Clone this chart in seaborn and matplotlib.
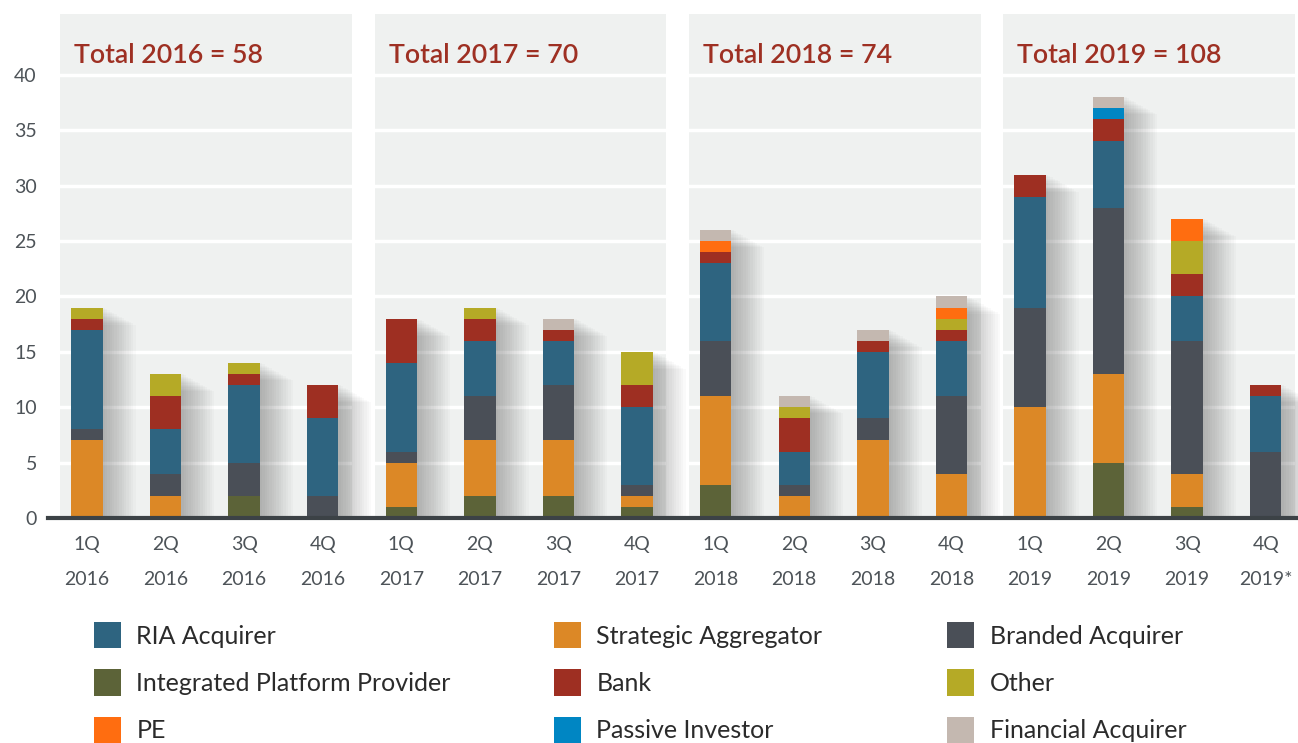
import numpy as np
import pandas as pd
import matplotlib
matplotlib.use("Agg")
import matplotlib.pyplot as plt
from matplotlib.patches import Patch
import seaborn as sns

# ---------------- data ----------------
quarters = ["1Q\n2016", "2Q\n2016", "3Q\n2016", "4Q\n2016",
            "1Q\n2017", "2Q\n2017", "3Q\n2017", "4Q\n2017",
            "1Q\n2018", "2Q\n2018", "3Q\n2018", "4Q\n2018",
            "1Q\n2019", "2Q\n2019", "3Q\n2019", "4Q\n2019*"]

integrated_platform = [0, 0, 2, 0,  1, 2, 2, 1,  3, 0, 0, 0,  0, 5, 1, 0]
strategic_aggregator = [7, 2, 0, 0,  4, 5, 5, 1,  8, 2, 7, 4,  10, 8, 3, 0]
branded_acquirer = [1, 2, 3, 2,  1, 4, 5, 1,  5, 1, 2, 7,  9, 15, 12, 6]
ria_acquirer = [9, 4, 7, 7,  8, 5, 4, 7,  7, 3, 6, 5,  10, 6, 4, 5]
bank = [1, 3, 1, 3,  4, 2, 1, 2,  1, 3, 1, 1,  2, 2, 2, 1]
other = [1, 2, 1, 0,  0, 1, 0, 3,  0, 1, 0, 1,  0, 0, 3, 0]
pe = [0, 0, 0, 0,  0, 0, 0, 0,  1, 0, 0, 1,  0, 0, 2, 0]
passive_investor = [0, 0, 0, 0,  0, 0, 0, 0,  0, 0, 0, 0,  0, 1, 0, 0]
financial_acquirer = [0, 0, 0, 0,  0, 0, 1, 0,  1, 1, 1, 1,  0, 1, 0, 0]

years = ["2016", "2017", "2018", "2019"]
year_totals = [58, 70, 74, 108]

series_names = ["Integrated Platform Provider", "Strategic Aggregator", "Branded Acquirer",
                "RIA Acquirer", "Bank", "Other", "PE", "Passive Investor", "Financial Acquirer"]
series_values = [integrated_platform, strategic_aggregator, branded_acquirer, ria_acquirer,
                 bank, other, pe, passive_investor, financial_acquirer]
colors = {
    "RIA Acquirer": "#2e6480",
    "Strategic Aggregator": "#dc8826",
    "Branded Acquirer": "#4a4f57",
    "Integrated Platform Provider": "#5c6338",
    "Bank": "#9e2f22",
    "Other": "#b5aa26",
    "PE": "#ff6d10",
    "Passive Investor": "#0086c3",
    "Financial Acquirer": "#c4b8b0",
}
legend_cols = [["RIA Acquirer", "Integrated Platform Provider", "PE"],
               ["Strategic Aggregator", "Bank", "Passive Investor"],
               ["Branded Acquirer", "Other", "Financial Acquirer"]]

# ---------------- figure ----------------
sns.set_theme(style="white")
plt.rcParams["font.family"] = ["Lato", "DejaVu Sans"]

W, H = 1298, 743
fig = plt.figure(figsize=(W / 100, H / 100), dpi=100)
ax = fig.add_axes([48 / W, (H - 518) / H, (1298 - 48) / W, (518 - 14) / H])
ax.set_facecolor("white")

n = len(quarters)
pos = np.arange(n)
bar_w = 0.4

# panel backgrounds (one per year)
for k in range(len(years)):
    ax.axvspan(4 * k - 0.34, 4 * k + 3.37, color="#eff1f0", zorder=0, lw=0)

# cumulative stacks
cum = np.cumsum(np.array(series_values, dtype=float), axis=0)
totals = cum[-1]

# soft shadow to the right of each bar (fades rightwards and at the top)
for j in range(14):
    ax.bar(pos - bar_w / 2, np.maximum(totals - 0.12 * j, 0), width=bar_w + 0.03 * (j + 1),
           align="edge", color="black", alpha=0.019, lw=0, zorder=1)

# stacked bars via seaborn (draw top cumulative first)
for i in range(len(series_names) - 1, -1, -1):
    df = pd.DataFrame({"quarter": quarters, "value": cum[i]})
    sns.barplot(data=df, x="quarter", y="value", order=quarters, color=colors[series_names[i]],
                width=bar_w, saturation=1, errorbar=None, ax=ax, zorder=3, linewidth=0)

ax.set_xlim(-0.496, 15.41)
ax.set_ylim(0, 45.5)
ax.set_yticks(np.arange(0, 41, 5))
ax.set_xlabel("")
ax.set_ylabel("")
ax.grid(axis="y", color="white", lw=2.5)
ax.grid(axis="x", visible=False)
ax.set_axisbelow(True)
for s in ["top", "right", "left"]:
    ax.spines[s].set_visible(False)
ax.spines["bottom"].set_color("#3c4246")
ax.spines["bottom"].set_linewidth(3)
ax.spines["bottom"].set_zorder(5)
ax.tick_params(axis="both", length=0, labelsize=14, labelcolor="#4d5358")
ax.tick_params(axis="x", pad=13)
ax.tick_params(axis="y", pad=8)
for t in ax.get_xticklabels():
    t.set_linespacing(2.25)

# year totals
for k, (yr, tot) in enumerate(zip(years, year_totals)):
    ax.text(4 * k - 0.16, 41.75, f"Total {yr} = {tot}", color="#9e3023", fontsize=19.3,
            fontweight="semibold", va="center", ha="left", zorder=6)

# legend (three columns)
col_x = [94 / W, 554 / W, 947 / W]
for cx, names in zip(col_x, legend_cols):
    handles = [Patch(facecolor=colors[nm], edgecolor="none") for nm in names]
    fig.legend(handles, names, loc="upper left", bbox_to_anchor=(cx, (H - 622) / H),
               frameon=False, fontsize=18, handlelength=1.08, handleheight=1.24,
               handletextpad=0.62, labelspacing=0.84, borderpad=0, borderaxespad=0,
               labelcolor="#2b2b2b")

fig.savefig("out.png", dpi=100)
